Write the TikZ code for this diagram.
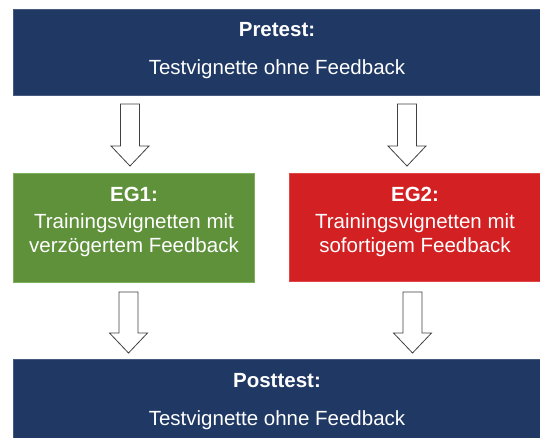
\documentclass[tikz,border=0pt]{standalone}
\usepackage{fontspec}
\setmainfont{Liberation Sans}
\usetikzlibrary{calc}
\definecolor{navy}{RGB}{32,56,100}
\definecolor{navyedge}{RGB}{70,90,125}
\definecolor{grn}{RGB}{94,145,58}
\definecolor{grnedge}{RGB}{125,175,90}
\definecolor{rd}{RGB}{210,32,35}
\definecolor{rdedge}{RGB}{225,70,70}
\definecolor{arrline}{RGB}{64,64,64}
\begin{document}
\begin{tikzpicture}[x=1pt,y=-1pt,
  box/.style={draw=#1edge,fill=#1,line width=0.8pt,inner sep=0pt,anchor=north west},
  txt/.style={text=white,font=\fontsize{20.5}{23}\selectfont,anchor=base,inner sep=0pt},
  ttl/.style={txt,font=\fontsize{20.5}{23}\selectfont\bfseries},
  arr/.style={draw=arrline,fill=white,line width=0.8pt,line join=miter}]
\path[use as bounding box] (0,0) rectangle (540,438);
\clip (0,0) rectangle (540,438);
% boxes
\node[box=navy,minimum width=535pt,minimum height=86pt] (pre) at (13,9) {};
\node[box=grn,minimum width=241pt,minimum height=109pt] (eg1) at (13,173) {};
\node[box=rd,minimum width=256pt,minimum height=108pt] (eg2) at (289,173) {};
\node[box=navy,minimum width=535pt,minimum height=90pt] (post) at (13,359) {};
% texts
\node[ttl] (preT) at (277,37) {Pretest:};
\node[txt] (preS) at (277,75) {Testvignette ohne Feedback};
\node[ttl] (eg1T) at (134,202) {EG1:};
\node[txt] (eg1a) at (134,229) {Trainingsvignetten mit};
\node[txt] (eg1b) at (134,252) {verzögertem Feedback};
\node[ttl] (eg2T) at (415,202) {EG2:};
\node[txt] (eg2a) at (415,229) {Trainingsvignetten mit};
\node[txt] (eg2b) at (415,252) {sofortigem Feedback};
\node[ttl] (postT) at (277,387) {Posttest:};
\node[txt] (postS) at (277,425) {Testvignette ohne Feedback};
% arrow ends
\coordinate (a1t) at (130,104); \coordinate (a1b) at (130,166);
\coordinate (a2t) at (407,104); \coordinate (a2b) at (407,166);
\coordinate (a3t) at (128.5,292); \coordinate (a3b) at (128.5,353);
\coordinate (a4t) at (412.5,292); \coordinate (a4b) at (412.5,353);
\foreach \s/\e in {a1t/a1b,a2t/a2b,a3t/a3b,a4t/a4b}{
  \draw[arr] let \p1=(\s), \p2=(\e) in
    (\x1-9.5pt,\y1) -- (\x1+9.5pt,\y1) -- (\x1+9.5pt,\y2+20pt) -- (\x1+19pt,\y2+20pt)
    -- (\x1,\y2) -- (\x1-19pt,\y2+20pt) -- (\x1-9.5pt,\y2+20pt) -- cycle;
}
\end{tikzpicture}
\end{document}
